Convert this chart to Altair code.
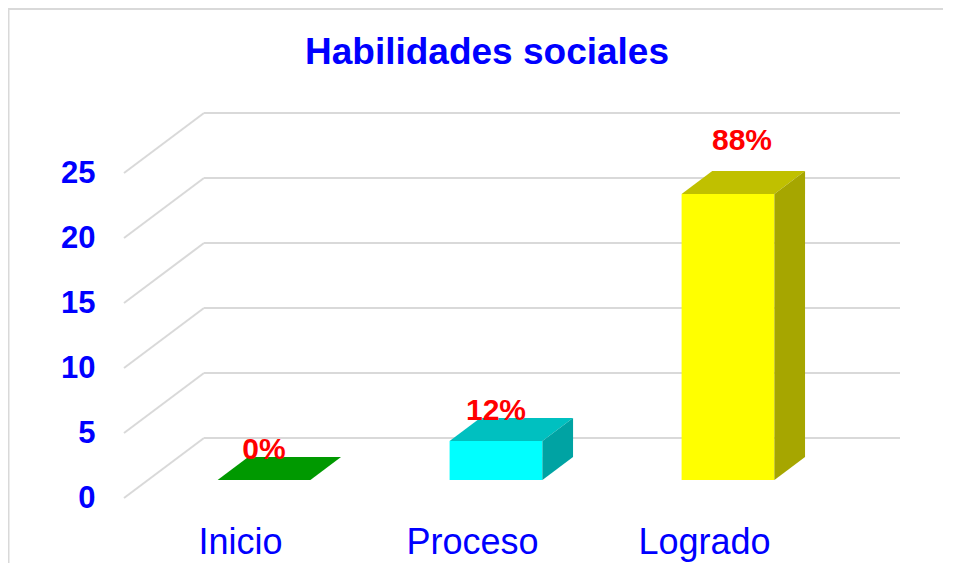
import json
import altair as alt
import pandas as pd

# ---------------- data ----------------
CATEGORIES = ["Inicio", "Proceso", "Logrado"]
VALUES = [0, 3, 22]
Y_TICKS = [0, 5, 10, 15, 20, 25]
TITLE = "Habilidades sociales"

# ---------------- styles ----------------
FRONT_COLORS = ["#00C000", "#00FFFF", "#FFFF00"]
TOP_COLORS = ["#009900", "#00C0C0", "#C0C000"]
SIDE_COLORS = ["#007A00", "#00A3A3", "#A6A600"]
BLUE = "#0000FF"
RED = "#FF0000"
GRID = "#D9D9D9"
FONT = "Liberation Sans"

# ---------------- layout (pixels) ----------------
W, H = 935, 465
PAD_TOP = 90
PX_PER_CAT = 232.0
PX_PER_UNIT = 13.0
ZERO_Y = 400.0        # front-plane value 0, from plot top
FIRST_CAT_X = 232.0   # first category centre, from plot left
DEPTH_PX = (80.0, 60.0)

U_MIN = -FIRST_CAT_X / PX_PER_CAT
U_MAX = U_MIN + W / PX_PER_CAT
V_MAX = ZERO_Y / PX_PER_UNIT
V_MIN = V_MAX - H / PX_PER_UNIT

DDX = DEPTH_PX[0] / PX_PER_CAT
DDY = DEPTH_PX[1] / PX_PER_UNIT
FLOOR_L, FLOOR_R = -0.5, len(CATEGORIES) - 0.5
BAR_HALF = 0.2
D0, D1 = 0.3, 0.683

xs = alt.Scale(domain=[U_MIN, U_MAX], nice=False, zero=False)
ys = alt.Scale(domain=[V_MIN, V_MAX], nice=False, zero=False)

# ---------------- tables ----------------
grid_df = pd.DataFrame({
    "v": Y_TICKS,
    "yb": [t + DDY for t in Y_TICKS],
    "x0": [FLOOR_L] * len(Y_TICKS),
    "xb1": [FLOOR_L + DDX] * len(Y_TICKS),
    "xb2": [FLOOR_R + DDX] * len(Y_TICKS),
})

front_rows, top_rows, side_rows, label_rows = [], [], [], []
total = sum(VALUES)
vmax = max(VALUES)
for i, (c, v) in enumerate(zip(CATEGORIES, VALUES)):
    front_rows.append({"cat": c,
                       "xl": i - BAR_HALF + D0 * DDX, "xr": i + BAR_HALF + D0 * DDX,
                       "yl": D0 * DDY, "yh": v + D0 * DDY})
    for d in (D0, D1):
        top_rows.append({"cat": c, "y": v + d * DDY,
                         "xl": i - BAR_HALF + d * DDX, "xr": i + BAR_HALF + d * DDX})
        side_rows.append({"cat": c, "x": i + BAR_HALF + d * DDX,
                          "yl": d * DDY, "yh": v + d * DDY})
    label_rows.append({"cat": c, "x": i + D0 * DDX, "y": v + D0 * DDY,
                       "txt": f"{round(v / total * 100)}%", "ismax": v == vmax})

front_df = pd.DataFrame(front_rows)
top_df = pd.DataFrame(top_rows)
side_df = pd.DataFrame(side_rows)
label_df = pd.DataFrame(label_rows)
title_df = pd.DataFrame({"t": [TITLE]})

# ---------------- axes (shared by all layers) ----------------
x_axis = alt.Axis(values=list(range(len(CATEGORIES))),
                  labelExpr=f"{json.dumps(CATEGORIES)}[datum.value]",
                  domain=False, ticks=False, tickSize=0, grid=False, title=None,
                  labelPadding=0, offset=-21, labelBaseline="middle",
                  labelFont=FONT, labelFontSize=36, labelColor=BLUE,
                  labelFlush=False, labelOverlap=False)
y_axis = alt.Axis(values=Y_TICKS, domain=False, ticks=False, tickSize=0, grid=False,
                  title=None, labelPadding=0, offset=-87,
                  labelFont=FONT, labelFontSize=31, labelFontWeight="bold",
                  labelColor=BLUE, labelAlign="right", labelBaseline="middle")


def X(f, **kw):
    return alt.X(f, scale=xs, axis=x_axis, title=None, **kw)


def Y(f, **kw):
    return alt.Y(f, scale=ys, axis=y_axis, title=None, **kw)


diag = alt.Chart(grid_df).mark_rule(color=GRID, strokeWidth=2).encode(
    x=X("x0:Q"), y=Y("v:Q"), x2="xb1:Q", y2="yb:Q")

back = alt.Chart(grid_df).mark_rule(color=GRID, strokeWidth=2).encode(
    x=X("xb1:Q"), x2="xb2:Q", y=Y("yb:Q"))

front = alt.Chart(front_df).mark_rect().encode(
    x=X("xl:Q"), x2="xr:Q", y=Y("yl:Q"), y2="yh:Q",
    color=alt.Color("cat:N", scale=alt.Scale(domain=CATEGORIES, range=FRONT_COLORS), legend=None))

top = alt.Chart(top_df).mark_area(orient="horizontal").encode(
    y=Y("y:Q"), x=X("xl:Q", stack=None), x2="xr:Q",
    color=alt.Color("cat:N", scale=alt.Scale(domain=CATEGORIES, range=TOP_COLORS), legend=None))

side = alt.Chart(side_df).mark_area(orient="vertical").encode(
    x=X("x:Q"), y=Y("yl:Q", stack=None), y2="yh:Q",
    color=alt.Color("cat:N", scale=alt.Scale(domain=CATEGORIES, range=SIDE_COLORS), legend=None))

lab_common = dict(font=FONT, fontSize=30, fontWeight="bold", color=RED,
                  align="center", baseline="middle")
labels = alt.Chart(label_df).transform_filter("!datum.ismax").mark_text(dy=-30, **lab_common).encode(
    x=X("x:Q"), y=Y("y:Q"), text="txt:N")
labels_max = alt.Chart(label_df).transform_filter("datum.ismax").mark_text(dx=14, dy=-53, **lab_common).encode(
    x=X("x:Q"), y=Y("y:Q"), text="txt:N")

border_df = pd.DataFrame({"k": [0]})
border_left = alt.Chart(border_df).mark_rule(color=GRID, strokeWidth=2).encode(
    x=alt.value(0.5), y=alt.value(-PAD_TOP), y2=alt.value(H + 20))
border_top = alt.Chart(border_df).mark_rule(color=GRID, strokeWidth=2).encode(
    x=alt.value(0), x2=alt.value(W + 20), y=alt.value(-PAD_TOP + 1))

title = alt.Chart(title_df).mark_text(
    font=FONT, fontSize=37, fontWeight="bold", color=BLUE,
    align="center", baseline="alphabetic").encode(
    x=alt.value(479), y=alt.value(-34), text="t:N")

chart = alt.layer(
    border_left, border_top, back, diag, front, top, side, labels, labels_max, title
).resolve_scale(color="independent").properties(
    width=W, height=H,
    autosize=alt.AutoSizeParams(type="none"),
    padding={"left": 0, "top": PAD_TOP, "right": 0, "bottom": 0},
).configure_view(stroke=None)

chart.save("out.html", embed_options={"renderer": "svg", "actions": False})
